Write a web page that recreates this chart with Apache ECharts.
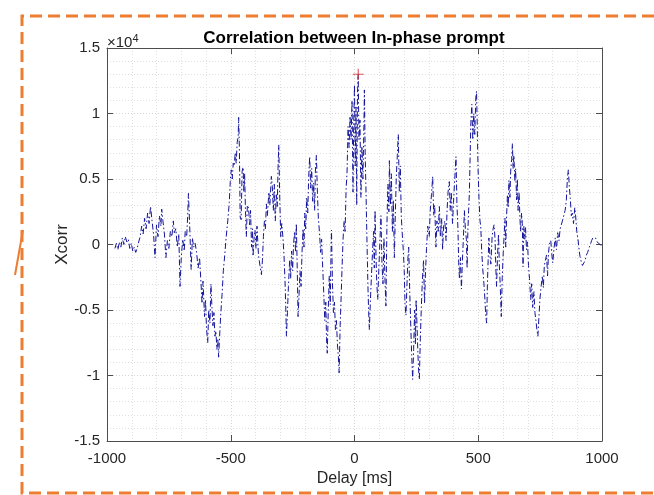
<!DOCTYPE html>
<html>
<head>
<meta charset="utf-8">
<script src="https://cdn.jsdelivr.net/npm/echarts@6/dist/echarts.min.js"></script>
<style>html,body{margin:0;padding:0;background:#fff;}#chart{width:654px;height:495px;}</style>
</head>
<body>
<div id="chart"></div>
<script>
// Delay axis (ms) and cross-correlation values
var delays = [
-968,-962,-956,-950,-944,-938,-932,-926,-920,-914,-908,-902,-896,-890,-884,-878,-872,-866,-860,-854,
-848,-842,-836,-830,-824,-818,-812,-806,-800,-794,-788,-782,-779,-774,-768,-762,-756,-750,-744,-738,
-732,-728,-722,-716,-710,-705,-700,-694,-688,-684,-678,-674,-671,-666,-660,-655,-650,-644,-638,-632,
-626,-620,-616,-612,-606,-602,-598,-593,-589,-584,-580,-576,-572,-568,-564,-560,-556,-552,-549,-545,
-540,-535,-530,-526,-520,-516,-512,
-506,-502,-498,-494,-490,-486,-482,-478,-474,-470,-468,-465,-462,-458,-454,-450,-447,-444,-440,-437,
-433,-428,-424,-420,-416,-412,-410,-406,-402,-398,-394,-388,-382,-376,-372,-368,-364,-360,-356,-352,
-346,-342,-336,-332,-328,-324,-320,-316,-312,-309,-306,-302,-298,-294,-289,-285,-281,-278,-275,-271,
-267,-262,-258,-254,-250,-246,-242,-238,-235,-231,-228,-224,-220,-216,-212,-208,-204,-201,-197,-193,
-189,-185,-181,-177,-173,-169,-165,-161,-158,-154,-150,-146,-141,-137,-133,-128,-124,-120,-116,-113,
-110,-106,-102,-98,-95,-93,-89,-85,-81,-77,-73,-69,-65,-62,-58,-54,-50,-46,-42,-38,
-34,-30,-26,-22,-18,-14,-10,-6,-3,0,3,6,9,12,15,18,22,26,30,34,
38,40,43,46,50,54,57,60,64,68,73,77,80,83,87,90,94,98,103,107,
111,115,119,123,127,131,135,139,141,145,149,153,157,161,165,169,173,177,181,185,
189,193,197,201,204,208,212,216,219,223,227,231,235,239,243,246,249,253,256,259,
262,266,270,274,279,283,287,291,296,302,306,311,316,320,324,329,333,338,343,347,
352,356,360,365,370,374,378,383,387,391,396,400,405,410,414,418,421,424,428,432,
436,440,444,448,452,455,458,461,464,467,470,474,478,482,486,490,493,496,499,503,
507,510,514,518,523,527,530,534,537,540,543,547,551,556,560,564,568,571,574,578,
582,585,589,593,597,601,605,608,611,615,618,621,624,628,631,635,638,641,644,648,
651,655,658,661,665,668,671,675,678,681,684,688,691,695,699,703,707,712,716,720,
725,729,733,737,741,745,749,754,759,763,767,772,776,780,784,788,793,797,801,806,
811,816,821,826,831,836,840,846,851,856,860,864,868,872,876,880,885,890,893,898,
903,908,911,916,921,927,932,937,942,947,953,958,963,968,974,980,986,992,997
];
var xcorr = [
-300,100,-400,200,-200,500,0,600,200,400,-300,100,-500,-200,-600,-300,200,600,1400,800,
2000,1200,2400,1600,2900,1800,800,-1000,1500,600,2200,1400,2700,1800,800,-1000,300,-300,1000,600,
1800,900,1200,-200,800,-3200,-1000,400,-500,1000,600,2200,3900,1500,-1900,500,-200,100,-600,-1800,
-1000,-3000,-4500,-2800,-5500,-4200,-6400,-7500,-5000,-6000,-3000,-4800,-6200,-5200,-7000,-6600,-8000,-7200,-8600,-7000,
-5200,-3800,-2000,-1200,200,1100,1800,
3200,4800,5700,5000,6200,6000,7000,6200,7800,8200,9700,7200,2100,1900,5600,5900,4000,5400,2200,600,
3000,2800,1500,2600,-200,1200,-900,400,1100,-300,1400,-800,-1600,-2300,-1200,600,1800,1200,3100,2200,
4000,3000,5200,4400,2600,4600,1800,3800,2900,5800,7600,3500,600,1600,500,-800,-2600,-4500,-7000,-5200,
-3200,-1200,-2600,-500,-2000,100,1000,-600,1600,-2200,-5500,-3800,-2000,-3200,-600,1200,-200,2400,1200,3600,
2400,5200,6700,4300,5800,3300,4700,2600,5600,6800,4000,2000,800,-600,400,-2000,-3800,-5800,-4400,-7200,
-8300,-5000,-2400,-4600,-800,1100,-3000,-5200,-4400,-6500,-5800,-7600,-8600,-9800,-6200,-4000,-1600,500,1800,1000,
4200,5600,9000,7400,9800,8000,11000,4000,9500,12200,6000,10500,3000,11500,13000,8000,9500,3600,7500,5000,
9000,11800,7000,4500,600,-3000,-5000,-6500,-4400,-2600,-500,1000,-1800,2600,-1000,-3000,-4200,-2000,400,2200,
-1500,-3000,500,-2600,-4700,1500,4600,2500,6400,3000,5400,1000,3400,-1000,2400,5200,6800,8400,4000,6000,
2200,800,-400,-2000,-4500,-5400,-3000,-1000,-200,-3500,-6000,-8400,-10300,-8000,-5000,-7600,-4200,-6400,-8200,-9600,
-10300,-7200,-4800,-2800,-1200,-4500,-2000,-300,1400,600,2600,3800,5200,2200,3000,-200,1800,1000,2900,600,
2000,-400,1400,1800,300,2600,4000,4800,2600,4000,1600,3200,5000,6700,3000,1200,-1400,-2600,-1000,-3400,
-1200,500,2600,1200,400,-1800,1000,2600,3800,6600,9200,10700,8000,10000,8400,11200,11700,9000,5900,3500,
1800,1400,-500,-1800,-3000,-4200,-5400,-6000,-3000,-1200,500,-800,-1500,600,1200,1500,400,-1800,-3200,-800,
800,-1500,-3200,-5500,-2500,-600,800,2000,-200,2400,3800,2800,4900,3600,5600,6500,7700,5800,6800,4800,
5800,3400,5000,2600,4000,2200,1000,2400,1600,-1700,1400,400,1300,-400,200,-1600,-2600,-4200,-3000,-4800,
-3600,-5200,-5800,-6500,-7000,-5600,-4200,-3200,-2400,-3300,-1600,-1500,-800,-2400,-600,100,300,-700,-1400,-300,
500,-400,900,300,1200,1300,1800,1900,2600,3400,5000,5700,4400,3500,2200,2400,1600,2800,2300,1000,
400,-500,-900,-1300,-1600,-1400,-1200,-800,-600,-300,0,300,500,600,500,200,200,0,-100
];
// Peak marker
var peakDelay = [15];
var peakValue = [13000];
// Axis ticks
var xTicks = [-1000, -500, 0, 500, 1000];
var yTicks = [-15000, -10000, -5000, 0, 5000, 10000, 15000];

var lineData = delays.map(function (d, i) { return [d, xcorr[i]]; });
var peakData = peakDelay.map(function (d, i) { return [d, peakValue[i]]; });

var FONT = 'Liberation Sans, Arial, Helvetica, sans-serif';
var AX = '#4d4d4d';
var TXT = '#262626';

var chart = echarts.init(document.getElementById('chart'), null, {renderer: 'canvas'});
chart.setOption({
  animation: false,
  backgroundColor: '#ffffff',
  grid: {left: 107, right: 52, top: 48, bottom: 54, containLabel: false},
  xAxis: [{
    type: 'value', min: xTicks[0], max: xTicks[xTicks.length - 1], interval: 500, position: 'bottom',
    name: 'Delay [ms]', nameLocation: 'middle', nameGap: 30, nameMoveOverlap: false,
    nameTextStyle: {fontSize: 16, color: TXT, fontFamily: FONT},
    axisLine: {show: true, onZero: false, lineStyle: {color: AX, width: 1}},
    axisTick: {show: true, inside: true, length: 6, lineStyle: {color: AX}},
    axisLabel: {fontSize: 15, color: TXT, margin: 10, fontFamily: FONT,
      formatter: function (v) { return String(v); }},
    splitLine: {show: true, lineStyle: {type: [1, 2], color: '#d4d4d4'}},
    minorTick: {show: false, splitNumber: 5},
    minorSplitLine: {show: true, lineStyle: {type: [1, 2], color: '#e0e0e0'}}
  }, {
    type: 'value', min: xTicks[0], max: xTicks[xTicks.length - 1], interval: 500, position: 'top',
    axisLine: {show: true, onZero: false, lineStyle: {color: AX, width: 1}},
    axisTick: {show: true, inside: true, length: 6, lineStyle: {color: AX}},
    axisLabel: {show: false}, splitLine: {show: false}
  }],
  yAxis: [{
    type: 'value', min: yTicks[0], max: yTicks[yTicks.length - 1], interval: 5000, position: 'left',
    name: 'Xcorr', nameLocation: 'middle', nameGap: 36, nameMoveOverlap: false,
    nameTextStyle: {fontSize: 17, color: TXT, fontFamily: FONT},
    axisLine: {show: true, onZero: false, lineStyle: {color: AX, width: 1}},
    axisTick: {show: true, inside: true, length: 6, lineStyle: {color: AX}},
    axisLabel: {fontSize: 15, color: TXT, margin: 7, fontFamily: FONT,
      formatter: function (v) { return String(v / 10000); }},
    splitLine: {show: true, lineStyle: {type: [1, 2], color: '#d4d4d4'}},
    minorTick: {show: false, splitNumber: 5},
    minorSplitLine: {show: true, lineStyle: {type: [1, 2], color: '#e0e0e0'}}
  }, {
    type: 'value', min: yTicks[0], max: yTicks[yTicks.length - 1], interval: 5000, position: 'right',
    axisLine: {show: true, onZero: false, lineStyle: {color: AX, width: 1}},
    axisTick: {show: true, inside: true, length: 6, lineStyle: {color: AX}},
    axisLabel: {show: false}, splitLine: {show: false}
  }],
  series: [{
    name: 'Xcorr', type: 'line', xAxisIndex: 0, yAxisIndex: 0,
    data: lineData, showSymbol: false, symbol: 'none', silent: true,
    lineStyle: {color: '#14149c', width: 1, type: [6, 2.5, 1.5, 2.5]}
  }, {
    name: 'Peak', type: 'scatter', xAxisIndex: 0, yAxisIndex: 0,
    data: peakData, silent: true, z: 5,
    symbol: 'path://M4.5,0h1v4.5h4.5v1h-4.5v4.5h-1v-4.5h-4.5v-1h4.5z', symbolSize: 11,
    itemStyle: {color: '#d42a2a'}
  }],
  graphic: [{
    type: 'polyline', silent: true, z: 100,
    shape: {points: [[654, 16], [22, 16], [22, 493], [654, 493]]},
    style: {fill: 'none', stroke: '#ED7D31', lineWidth: 3, lineDash: [12, 6]}
  }, {
    type: 'line', silent: true, z: 100,
    shape: {x1: 23, y1: 230, x2: 15, y2: 275},
    style: {stroke: '#ED7D31', lineWidth: 2}
  }, {
    type: 'text', silent: true, z: 100, x: 354, y: 38,
    style: {text: 'Correlation between In-phase prompt', font: 'bold 17px ' + FONT,
      fill: '#000000', textAlign: 'center', textVerticalAlign: 'middle'}
  }, {
    type: 'text', silent: true, z: 100, x: 107, y: 33,
    style: {text: '×10{s|4}', fill: TXT, font: '15px ' + FONT, textVerticalAlign: 'top',
      rich: {s: {fontSize: 11, fontFamily: FONT, fill: TXT, verticalAlign: 'top', padding: [0, 0, 8, 0]}}}
  }]
});
</script>
</body>
</html>
